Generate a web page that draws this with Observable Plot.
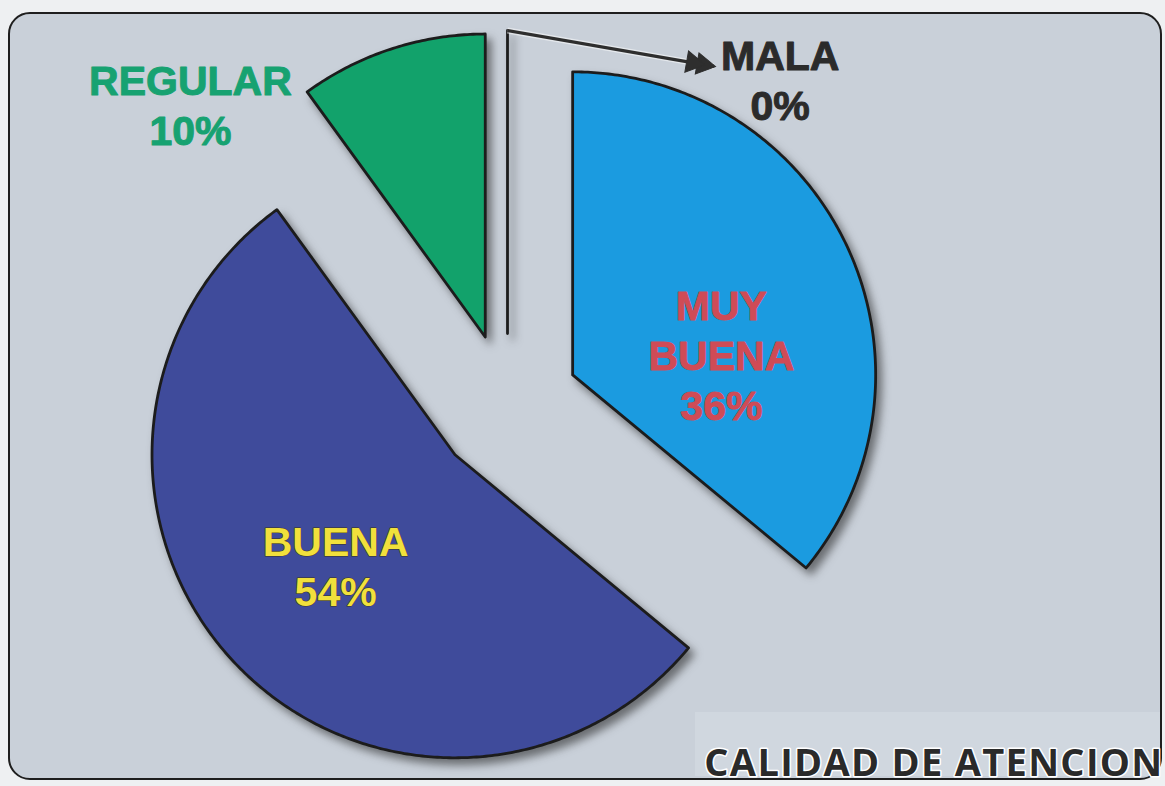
<!DOCTYPE html>
<html>
<head>
<meta charset="utf-8">
<script src="https://cdn.jsdelivr.net/npm/d3@7"></script>
<script src="https://cdn.jsdelivr.net/npm/@observablehq/plot@0.6"></script>
<style>
  html, body { margin: 0; padding: 0; background: #eef0f2; }
  #wrap { position: relative; width: 1165px; height: 786px; overflow: hidden; }
  #frame { position: absolute; left: 8px; top: 12px; width: 1150px; height: 764px;
           border: 2px solid #1e1e1e; border-radius: 22px; background: #c9d0d9; }
  #band { position: absolute; left: 695px; top: 712px; width: 465px; height: 64px;
          background: rgba(225,231,238,0.3); }
  #chart { position: absolute; left: 0; top: 0; }
  #chart svg g[aria-label="line"] { filter: drop-shadow(5px 6px 4px rgba(30,30,30,0.55)); }
  #chart svg g[aria-label="text"]:last-of-type text { letter-spacing: 1.3px; }
</style>
</head>
<body>
<div id="wrap">
  <div id="frame"></div>
  <div id="band"></div>
  <div id="chart"></div>
</div>
<script>
// ---- data ----
const categories = ["MUY BUENA", "BUENA", "REGULAR", "MALA"];
const values = [36, 54, 10, 0];
const labelTexts = ["MUY\nBUENA\n36%", "BUENA\n54%", "REGULAR\n10%", "MALA\n0%"];
const sliceColors = ["#1b9be0", "#3f4b9b", "#12a26b", "#ffffff"];
const textColors = ["#cf4b56", "#f1e03c", "#17a271", "#2b2b2b"];
const textHalos = ["#cf4b56", "#3a3418", "#17a271", "#2b2b2b"];
const title = "CALIDAD DE ATENCION";

// ---- layout ----
const W = 1165, H = 786;
const R = 303;            // pie radius in px
const CX = 507, CY = 405; // pie center in px
const explode = 72 / R;   // explode distance (in radius units)
// label placement: polar (degrees clockwise from 12 o'clock, distance in radius units) from pie center
const labelPolar = [[76.5, 0.726], [227.2, 0.773], [313.6, 1.445], [39.9, 1.403]];
const arrowEndPolar = [31.3, 1.31];

const pie = d3.pie().sort(null).value(d => d)(values);
const polar = (a, r) => [r * Math.sin(a), r * Math.cos(a)];

const polys = [];
pie.forEach((p, i) => {
  const mid = (p.startAngle + p.endAngle) / 2;
  const [ox, oy] = polar(mid, explode);
  const key = categories[i];
  const color = sliceColors[i];
  polys.push({key, color, x: ox, y: oy});
  const n = Math.max(2, Math.ceil((p.endAngle - p.startAngle) / 0.01));
  for (let k = 0; k <= n; k++) {
    const a = p.startAngle + (p.endAngle - p.startAngle) * k / n;
    const [px, py] = polar(a, 1);
    polys.push({key, color, x: ox + px, y: oy + py});
  }
  polys.push({key, color, x: ox, y: oy});
});

const labels = categories.map((c, i) => {
  const [lx, ly] = polar(labelPolar[i][0] * Math.PI / 180, labelPolar[i][1]);
  return {text: labelTexts[i], x: lx, y: ly, fill: textColors[i], halo: textHalos[i]};
});

// arrow from the MALA slice tip to its label
const malaIdx = categories.indexOf("MALA");
const mp = pie[malaIdx];
const mMid = (mp.startAngle + mp.endAngle) / 2;
const [mx1, my1] = polar(mMid, 1 + explode);
const [mx2, my2] = polar(arrowEndPolar[0] * Math.PI / 180, arrowEndPolar[1]);
const arrowData = [{x1: mx1, y1: my1, x2: mx2, y2: my2}];
// filled arrowheads (two, stacked) along the arrow direction
const dxs = (mx2 - mx1), dys = (my2 - my1);
const len = Math.hypot(dxs, dys);
const rot = Math.atan2(dxs, dys) * 180 / Math.PI;
const heads = [0.035, 0.07].map(b => ({x: mx2 - dxs / len * b, y: my2 - dys / len * b}));

const chart = Plot.plot({
  width: W, height: H, margin: 0,
  style: {background: "transparent", overflow: "visible"},
  x: {domain: [-CX / R, (W - CX) / R], axis: null},
  y: {domain: [-(H - CY) / R, CY / R], axis: null},
  color: {type: "identity"},
  marks: [
    Plot.line(polys, {x: "x", y: "y", z: "key", fill: "color", stroke: "#1c1c1c",
                      strokeWidth: 2.8, strokeLinejoin: "round"}),
    Plot.link(arrowData, {x1: "x1", y1: "y1", x2: "x2", y2: "y2", stroke: "#ffffff",
                          strokeWidth: 6, strokeOpacity: 0.5}),
    Plot.link(arrowData, {x1: "x1", y1: "y1", x2: "x2", y2: "y2", stroke: "#2e2e2e",
                          strokeWidth: 3.2}),
    Plot.dot(heads, {x: "x", y: "y", symbol: "triangle", r: 8, rotate: rot,
                     fill: "#2e2e2e", stroke: "#2e2e2e", strokeWidth: 1}),
    Plot.text(labels, {x: "x", y: "y", text: "text", fill: "fill", stroke: "halo",
                       strokeWidth: 1, paintOrder: "stroke", fontSize: 41, fontWeight: "bold",
                       fontFamily: "Liberation Sans, Arial, sans-serif", lineHeight: 1.22}),
    Plot.text([title], {frameAnchor: "bottom-right", dx: -2, dy: -11, text: d => d,
                        fontSize: 38, fontWeight: "bold", fontFamily: "Open Sans, sans-serif",
                        fill: "#2a2a2a", stroke: "#ffffff", strokeWidth: 3, paintOrder: "stroke",
                        textAnchor: "end", lineAnchor: "bottom"})
  ]
});
document.getElementById("chart").appendChild(chart);
</script>
</body>
</html>
